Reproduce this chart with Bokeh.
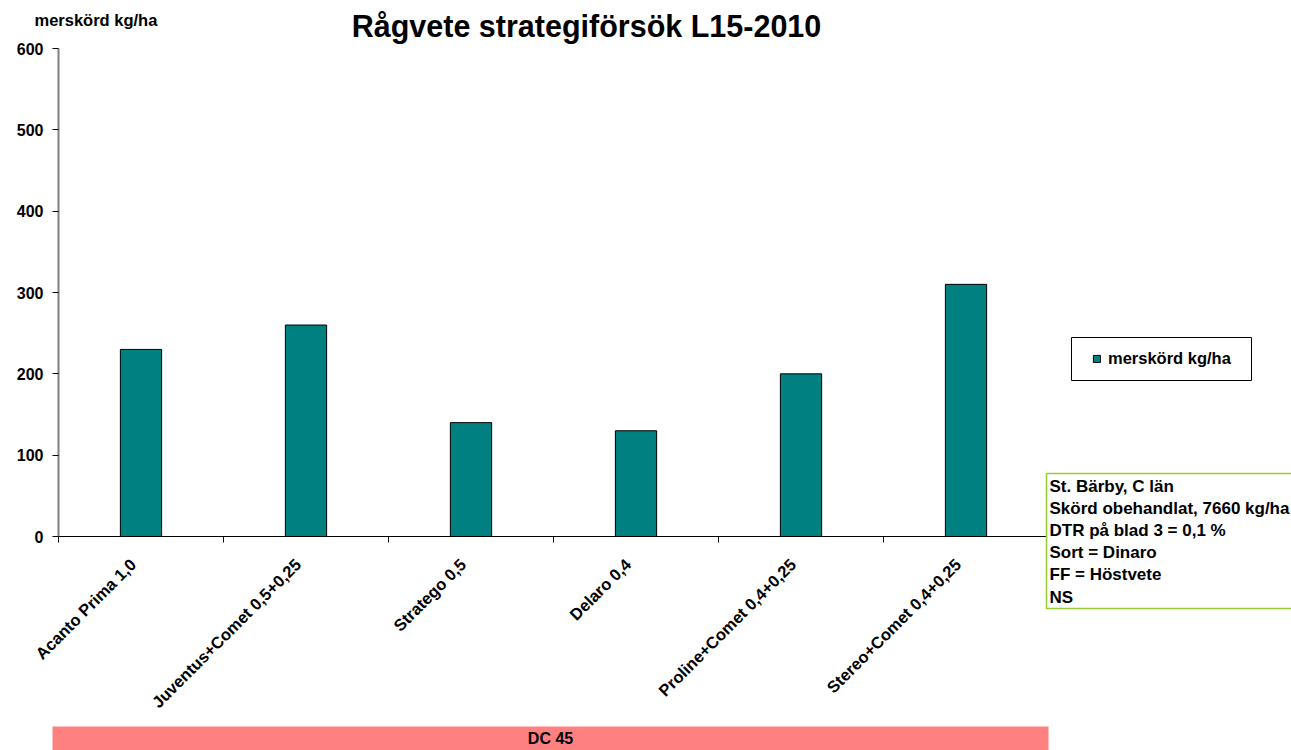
import math
from bokeh.plotting import figure
from bokeh.models import (Range1d, FixedTicker, Label, BoxAnnotation, Legend, LegendItem)
from bokeh.embed import file_html
from bokeh.resources import INLINE

# ---- data ----
categories = ["Acanto Prima 1,0", "Juventus+Comet 0,5+0,25", "Stratego 0,5",
              "Delaro 0,4", "Proline+Comet 0,4+0,25", "Stereo+Comet 0,4+0,25"]
merskord = [230, 260, 140, 130, 200, 310]
y_ticks = [0, 100, 200, 300, 400, 500, 600]
series_name = "merskörd kg/ha"
y_title = "merskörd kg/ha"
title_text = "Rågvete strategiförsök L15-2010"
info_lines = ["St. Bärby, C län", "Skörd obehandlat, 7660 kg/ha", "DTR på blad 3 = 0,1 %",
              "Sort = Dinaro", "FF = Höstvete", "NS"]
stage_label = "DC 45"

FONT = "Liberation Sans"
W, H = 1291, 750
# plot-area geometry in page pixels: axes cross at (58, 536), 600 at y=48, 6 categories end at x=1048
AX_L, AX_R, AX_T, AX_B = 58, 1048, 48, 536
LABEL_SHIFT_PX = 8  # category labels sit slightly left of the category centre
n = len(categories)
ymax = y_ticks[-1]
px_per_cat = (AX_R - AX_L) / n
px_per_unit = (AX_B - AX_T) / ymax

x_range = Range1d(-AX_L / px_per_cat, (W - AX_L) / px_per_cat)
y_range = Range1d(-(H - AX_B) / px_per_unit, AX_B / px_per_unit)

p = figure(width=W, height=H, output_backend="svg", toolbar_location=None,
           x_range=x_range, y_range=y_range, min_border=0)
p.title.visible = False
p.xgrid.visible = False
p.ygrid.visible = False
p.outline_line_color = None
p.background_fill_color = "white"
p.border_fill_color = "white"

def sx(px):
    return px

def sy(py):
    return H - py

centers = [i + 0.5 for i in range(n)]
bars = p.vbar(x=centers, top=merskord, width=0.25, fill_color="#008080",
              line_color="black", line_width=1)

# y axis
ya = p.yaxis[0]
ya.fixed_location = 0
ya.bounds = (y_ticks[0], y_ticks[-1])
ya.ticker = FixedTicker(ticks=y_ticks)
ya.minor_tick_line_color = None
ya.major_tick_in = 0
ya.major_tick_out = 6
ya.major_tick_line_color = "black"
ya.axis_line_color = "#808080"
ya.axis_line_width = 2
ya.major_label_text_font = FONT
ya.major_label_text_font_style = "bold"
ya.major_label_text_font_size = "16px"
ya.major_label_text_color = "black"
ya.major_label_standoff = 9

# x axis
label_pos = [c - LABEL_SHIFT_PX / px_per_cat for c in centers]
xa = p.xaxis[0]
xa.fixed_location = 0
xa.bounds = (0, n)
xa.ticker = FixedTicker(ticks=label_pos, minor_ticks=list(range(n + 1)))
xa.major_label_overrides = {c: name for c, name in zip(label_pos, categories)}
xa.major_tick_line_color = None
xa.major_tick_in = 0
xa.major_tick_out = 0
xa.minor_tick_in = 0
xa.minor_tick_out = 6
xa.minor_tick_line_color = "black"
xa.axis_line_color = "black"
xa.major_label_orientation = math.pi / 4
xa.major_label_text_font = FONT
xa.major_label_text_font_style = "bold"
xa.major_label_text_font_size = "16.5px"
xa.major_label_text_color = "black"
xa.major_label_standoff = 19

# title
p.add_layout(Label(x=sx(586), y=sy(25), x_units="screen", y_units="screen",
                   text=title_text, text_align="center", text_baseline="middle",
                   text_font=FONT, text_font_style="bold", text_font_size="30.5px",
                   text_color="black"))
# y title
p.add_layout(Label(x=sx(34), y=sy(19), x_units="screen", y_units="screen",
                   text=y_title, text_align="left", text_baseline="middle",
                   text_font=FONT, text_font_style="bold", text_font_size="16.5px",
                   text_color="black"))

# legend box
p.add_layout(BoxAnnotation(left=sx(1071), right=sx(1251), top=sy(337), bottom=sy(380),
                           left_units="screen", right_units="screen",
                           top_units="screen", bottom_units="screen",
                           fill_color="white", fill_alpha=1,
                           line_color="black", line_width=1, line_alpha=1))
legend = Legend(items=[LegendItem(label=series_name, renderers=[bars])],
                location=(sx(1092), sy(368)), padding=0, margin=0,
                border_line_color=None, background_fill_alpha=0,
                glyph_width=9, glyph_height=9, label_height=19, label_standoff=7,
                label_text_font=FONT, label_text_font_style="bold",
                label_text_font_size="16.5px", label_text_color="black")
p.add_layout(legend)

# info box (its right side runs past the window edge, as in the original)
p.add_layout(BoxAnnotation(left=sx(1046), right=sx(W + 20), top=sy(473), bottom=sy(608),
                           left_units="screen", right_units="screen",
                           top_units="screen", bottom_units="screen",
                           fill_color="white", fill_alpha=1,
                           line_color="#99CC33", line_width=1.5, line_alpha=1))
p.add_layout(Label(x=sx(1049), y=sy(476), x_units="screen", y_units="screen",
                   text="\n".join(info_lines), text_align="left", text_baseline="top",
                   text_font=FONT, text_font_style="bold", text_font_size="17px",
                   text_line_height=1.17, text_color="black"))

# stage bar
p.add_layout(BoxAnnotation(left=sx(52), right=sx(1048), top=sy(726), bottom=sy(H),
                           left_units="screen", right_units="screen",
                           top_units="screen", bottom_units="screen",
                           fill_color="#FF8080", fill_alpha=1, line_alpha=0))
p.add_layout(Label(x=sx(550), y=sy(738), x_units="screen", y_units="screen",
                   text=stage_label, text_align="center", text_baseline="middle",
                   text_font=FONT, text_font_style="bold", text_font_size="16px",
                   text_color="black"))

open("out.html", "w").write(file_html(p, INLINE))
